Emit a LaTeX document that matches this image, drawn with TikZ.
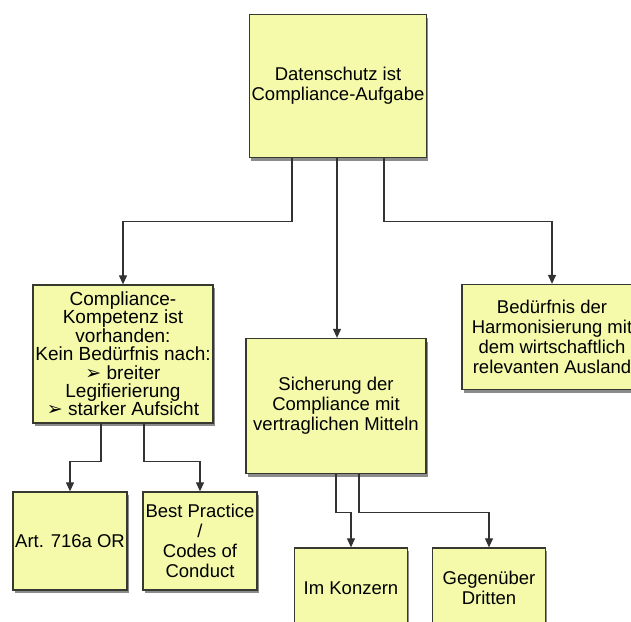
\documentclass[tikz,border=0pt]{standalone}
\usepackage{fontspec}
\setmainfont{Liberation Sans}
\newfontfamily\symfont{DejaVu Sans}
\usepackage{xcolor}
\usetikzlibrary{arrows.meta,shadows}
\definecolor{boxfill}{RGB}{244,250,170}
\definecolor{boxline}{RGB}{55,57,48}
\definecolor{linegray}{RGB}{50,50,50}
\tikzset{
  box/.style={rectangle, draw=boxline, line width=1.3pt, fill=boxfill, align=center,
              inner sep=2pt, font=\fontsize{18.5}{20}\selectfont,
              drop shadow={shadow xshift=1.5pt, shadow yshift=-3pt, opacity=.45, fill=black}},
  arr/.style={-{Triangle[length=9pt,width=8pt]}, draw=linegray, line width=1.1pt}
}
\newcommand{\pfeil}{{\symfont\char"27A2}}

\begin{document}
\begin{tikzpicture}[x=1pt,y=-1pt]
  \clip (0,0) rectangle (631,621);
  \fill[white] (0,0) rectangle (631,621);
  \node[box, minimum width=177pt, minimum height=143pt] (top) at (338,86)
    {Datenschutz ist\\Compliance-Aufgabe};
  \node[box, minimum width=180pt, minimum height=138pt, font=\fontsize{19}{18.4}\selectfont] (komp) at (123,354)
    {Compliance-\\Kompetenz ist\\vorhanden:\\Kein Bedürfnis nach:\\\pfeil\ breiter\\Legifierierung\\\pfeil\ starker Aufsicht};
  \node[box, minimum width=180pt, minimum height=135pt] (sich) at (336,406)
    {Sicherung der\\Compliance mit\\vertraglichen Mitteln};
  \node[box, minimum width=180pt, minimum height=105pt] (harm) at (552,337)
    {Bedürfnis der\\Harmonisierung mit\\dem wirtschaftlich\\relevanten Ausland};
  \node[box, minimum width=114pt, minimum height=98pt] (art) at (70,541) {Art. 716a OR};
  \node[box, minimum width=114pt, minimum height=98pt] (best) at (200,541)
    {Best Practice\\/\\Codes of\\Conduct};
  \node[box, minimum width=113pt, minimum height=80pt] (konz) at (351,588) {Im Konzern};
  \node[box, minimum width=113pt, minimum height=80pt] (dritt) at (489,588) {Gegenüber\\Dritten};
  \draw[arr] ([xshift=-46pt]top.south) -- ++(0,63) -| (komp.north);
  \draw[arr] ([xshift=-1pt]top.south) -- ([xshift=-1pt]top.south |- sich.north);
  \draw[arr] ([xshift=46pt]top.south) -- ++(0,63) -| (harm.north);
  \draw[arr] ([xshift=-22pt]komp.south) -- ++(0,38) -| (art.north);
  \draw[arr] ([xshift=21pt]komp.south) -- ++(0,38) -| (best.north);
  \draw[arr] ([xshift=0pt]sich.south) -- ++(0,38) -| (konz.north);
  \draw[arr] ([xshift=23pt]sich.south) -- ++(0,38) -| (dritt.north);
\end{tikzpicture}
\end{document}
